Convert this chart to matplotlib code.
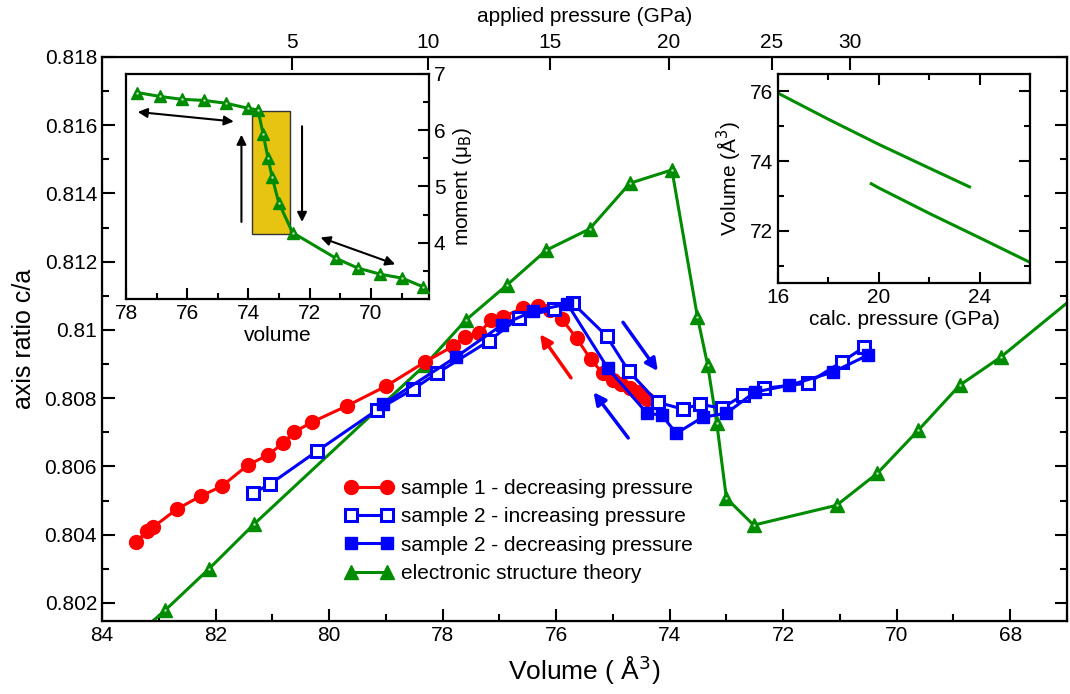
import matplotlib
matplotlib.use("Agg")
import matplotlib.pyplot as plt
from matplotlib.patches import Rectangle
from matplotlib.ticker import MultipleLocator

plt.rcParams['font.family'] = ['Liberation Sans', 'DejaVu Sans']

# sample 1, decreasing pressure
s1_vol = [83.40, 83.21, 83.10, 82.68, 82.26, 81.89, 81.43, 81.08, 80.81, 80.62,
          80.30, 79.69, 79.00, 78.31, 77.82, 77.61, 77.35, 77.15, 76.94, 76.59,
          76.32, 76.11, 75.90, 75.64, 75.39, 75.18, 75.00, 74.85, 74.70, 74.58,
          74.48, 74.40]
s1_ca = [0.80378, 0.80410, 0.80422, 0.80475, 0.80513, 0.80542, 0.80604, 0.80633,
         0.80668, 0.80700, 0.80730, 0.80777, 0.80835, 0.80906, 0.80952, 0.80979,
         0.80991, 0.81029, 0.81038, 0.81064, 0.81070, 0.81058, 0.81032, 0.80976,
         0.80914, 0.80873, 0.80853, 0.80841, 0.80829, 0.80818, 0.80806, 0.80797]

# sample 2, increasing pressure
s2i_vol = [81.34, 81.04, 80.21, 79.16, 78.52, 78.10, 77.19, 76.66, 76.04, 75.71,
           75.11, 74.72, 74.21, 73.77, 73.47, 73.08, 72.70, 72.33, 71.57, 70.97,
           70.57]
s2i_ca = [0.80521, 0.80548, 0.80645, 0.80765, 0.80826, 0.80873, 0.80967, 0.81035,
          0.81061, 0.81079, 0.80982, 0.80879, 0.80788, 0.80768, 0.80782, 0.80771,
          0.80809, 0.80829, 0.80844, 0.80906, 0.80950]

# sample 2, decreasing pressure
s2d_vol = [70.51, 71.13, 71.89, 72.50, 73.00, 73.42, 73.88, 74.14, 74.40, 75.09,
           75.80, 76.41, 76.96, 77.77, 79.05]
s2d_ca = [0.80926, 0.80876, 0.80838, 0.80818, 0.80756, 0.80744, 0.80697, 0.80750,
          0.80756, 0.80888, 0.81076, 0.81055, 0.81014, 0.80920, 0.80782]

# electronic structure theory
th_vol = [83.70, 82.89, 82.12, 81.32, 78.31, 77.59, 76.87, 76.17, 75.41, 74.70,
          73.96, 73.51, 73.33, 73.17, 73.00, 72.52, 71.06, 70.34, 69.62, 68.89,
          68.17, 66.70]
th_ca = [0.80060, 0.80178, 0.80299, 0.80431, 0.80897, 0.81029, 0.81131, 0.81234,
         0.81296, 0.81430, 0.81469, 0.81038, 0.80897, 0.80727, 0.80507, 0.80428,
         0.80486, 0.80580, 0.80706, 0.80838, 0.80920, 0.81120]

# top axis: applied pressure ticks, placed at volume
p_labels = ['5', '10', '15', '20', '25', '30']
p_at_vol = [80.66, 78.26, 76.10, 74.02, 72.20, 70.83]

# inset 1: moment vs volume
m_vol = [77.63, 76.89, 76.18, 75.45, 74.74, 74.01, 73.69, 73.52, 73.36, 73.23,
         73.01, 72.56, 71.13, 70.43, 69.69, 68.98, 68.31]
m_mom = [6.67, 6.60, 6.55, 6.53, 6.48, 6.39, 6.36, 5.93, 5.50, 5.17,
         4.71, 4.18, 3.72, 3.55, 3.44, 3.37, 3.22]

# inset 2: volume vs calc. pressure (two branches)
hi_p = [16.0, 18.0, 20.0, 22.0, 23.6]
hi_v = [75.95, 75.20, 74.48, 73.80, 73.26]
lo_p = [19.7, 20.0, 22.0, 24.0, 25.95]
lo_v = [73.35, 73.23, 72.50, 71.80, 71.11]

red = '#ff0000'
blue = '#0000ff'
green = '#008c00'

fig = plt.figure(figsize=(10.7, 6.94), dpi=100)
ax = fig.add_axes([0.0953, 0.1052, 0.9019, 0.8127])

ax.plot(s1_vol, s1_ca, '-o', color=red, lw=2.2, ms=10, zorder=3,
        label='sample 1 - decreasing pressure')
ax.plot(s2i_vol, s2i_ca, '-s', color=blue, lw=2.2, ms=8, mfc='white', mew=2.2,
        zorder=4, label='sample 2 - increasing pressure')
ax.plot(s2d_vol, s2d_ca, '-s', color=blue, lw=2.2, ms=9, zorder=4,
        label='sample 2 - decreasing pressure')
ax.plot(th_vol, th_ca, '-^', color=green, lw=2.2, ms=10, mec=green, zorder=2,
        label='electronic structure theory')
ax.plot(th_vol, th_ca, '.', color='#b8e0b8', ms=1.5, zorder=2)

# pressure direction arrows
arr = dict(arrowstyle='-|>', lw=2.5, mutation_scale=18)
ax.annotate('', xy=(76.31, 0.80994), xytext=(75.71, 0.80853),
            arrowprops=dict(arr, color=red))
ax.annotate('', xy=(75.37, 0.80824), xytext=(74.70, 0.80677),
            arrowprops=dict(arr, color=blue))
ax.annotate('', xy=(74.18, 0.80873), xytext=(74.85, 0.81029),
            arrowprops=dict(arr, color=blue))

ax.set_xlim(84, 67)
ax.set_ylim(0.80147, 0.818)
ax.xaxis.set_major_locator(MultipleLocator(2))
ax.xaxis.set_minor_locator(MultipleLocator(1))
ax.yaxis.set_minor_locator(MultipleLocator(0.001))
ax.set_yticks([0.802, 0.804, 0.806, 0.808, 0.81, 0.812, 0.814, 0.816, 0.818])
ax.set_yticklabels(['0.802', '0.804', '0.806', '0.808', '0.81', '0.812',
                    '0.814', '0.816', '0.818'])
ax.tick_params(which='both', direction='in', right=True, top=False,
               labelsize=15, width=1.5)
ax.tick_params(which='major', length=9)
ax.tick_params(which='minor', length=5)
for s in ax.spines.values():
    s.set_linewidth(1.6)
ax.set_xlabel('Volume ( Å$^3$)', fontsize=19, labelpad=6)
ax.set_ylabel('axis ratio c/a', fontsize=18, labelpad=6)

ax.legend(loc='upper left', bbox_to_anchor=(0.305, 0.337), bbox_transform=fig.transFigure,
          frameon=False, numpoints=2, handlelength=2.3, fontsize=15,
          labelspacing=0.45, handletextpad=0.4)

ax2 = ax.twiny()
ax2.set_xlim(ax.get_xlim())
ax2.set_xticks(p_at_vol)
ax2.set_xticklabels(p_labels)
ax2.tick_params(direction='in', length=9, width=1.5, labelsize=15)
ax2.set_xlabel('applied pressure (GPa)', fontsize=15, labelpad=8)

# inset 1: magnetic moment
ins1 = fig.add_axes([0.1178, 0.5692, 0.2832, 0.3242])
ins1.add_patch(Rectangle((73.90, 4.16), -1.27, 2.19, facecolor='#e8c412',
                         edgecolor='#333333', lw=1, zorder=1))
ins1.plot(m_vol, m_mom, '-^', color=green, lw=2.2, ms=9, zorder=3)
ins1.plot(m_vol, m_mom, '.', color='#b8e0b8', ms=1.5, zorder=3)
ia = dict(color='black', lw=1.5, mutation_scale=14)
ins1.annotate('', xy=(77.71, 6.33), xytext=(74.39, 6.15),
              arrowprops=dict(ia, arrowstyle='<|-|>'))
ins1.annotate('', xy=(74.23, 5.97), xytext=(74.23, 4.32),
              arrowprops=dict(ia, arrowstyle='-|>'))
ins1.annotate('', xy=(72.25, 4.32), xytext=(72.25, 6.12),
              arrowprops=dict(ia, arrowstyle='-|>'))
ins1.annotate('', xy=(71.73, 4.11), xytext=(69.12, 3.60),
              arrowprops=dict(ia, arrowstyle='<|-|>'))
ins1.set_xlim(78, 68.1)
ins1.set_ylim(3, 7)
ins1.xaxis.set_major_locator(MultipleLocator(2))
ins1.xaxis.set_minor_locator(MultipleLocator(1))
ins1.yaxis.set_minor_locator(MultipleLocator(0.5))
ins1.set_yticks([4, 5, 6, 7])
ins1.yaxis.tick_right()
ins1.yaxis.set_label_position('right')
ins1.tick_params(which='both', direction='in', labelsize=15, width=1.5,
                 left=False, right=True)
ins1.tick_params(which='major', length=8)
ins1.tick_params(which='minor', length=4)
for s in ins1.spines.values():
    s.set_linewidth(1.6)
ins1.set_xlabel('volume', fontsize=15, labelpad=2)
ins1.set_ylabel('moment (μ$_\\mathrm{B}$)', fontsize=15, labelpad=4)

# inset 2: volume vs calculated pressure
ins2 = fig.add_axes([0.7271, 0.5922, 0.2355, 0.3012])
ins2.plot(hi_p, hi_v, color=green, lw=2.2)
ins2.plot(lo_p, lo_v, color=green, lw=2.2)
ins2.set_xlim(16, 26)
ins2.set_ylim(70.5, 76.5)
ins2.xaxis.set_major_locator(MultipleLocator(4))
ins2.xaxis.set_minor_locator(MultipleLocator(2))
ins2.yaxis.set_major_locator(MultipleLocator(2))
ins2.yaxis.set_minor_locator(MultipleLocator(1))
ins2.tick_params(which='both', direction='in', labelsize=15, width=1.5,
                 top=True, right=True)
ins2.tick_params(which='major', length=8)
ins2.tick_params(which='minor', length=4)
for s in ins2.spines.values():
    s.set_linewidth(1.6)
ins2.set_xlabel('calc. pressure (GPa)', fontsize=15, labelpad=2)
ins2.set_ylabel('Volume (Å$^3$)', fontsize=15, labelpad=4)

fig.savefig('out.png', dpi=100)
